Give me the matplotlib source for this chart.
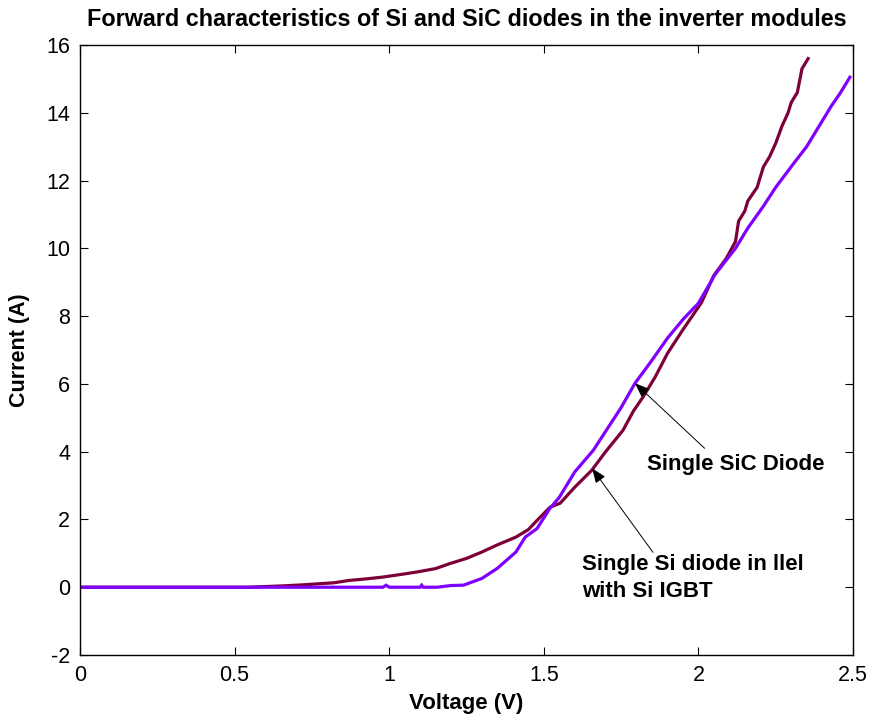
import matplotlib
matplotlib.use("Agg")
import matplotlib.pyplot as plt

# ---- data ----
si_v = [0, 0.3, 0.55, 0.6, 0.657, 0.72, 0.77, 0.82, 0.87, 0.93, 0.98, 1.04, 1.09,
        1.15, 1.197, 1.25, 1.30, 1.35, 1.41, 1.45, 1.478, 1.52, 1.553, 1.60, 1.655,
        1.70, 1.756, 1.79, 1.82, 1.86, 1.90, 1.95, 2.01, 2.05, 2.09, 2.12, 2.13,
        2.15, 2.16, 2.19, 2.21, 2.23, 2.25, 2.27, 2.29, 2.30, 2.32, 2.335, 2.355]
si_i = [0, 0, 0, 0.02, 0.04, 0.07, 0.1, 0.13, 0.2, 0.25, 0.3, 0.38, 0.45,
        0.55, 0.7, 0.85, 1.04, 1.25, 1.48, 1.7, 1.97, 2.36, 2.48, 2.95, 3.45,
        4.0, 4.63, 5.2, 5.6, 6.2, 6.9, 7.6, 8.4, 9.2, 9.7, 10.2, 10.8,
        11.1, 11.4, 11.8, 12.4, 12.7, 13.1, 13.6, 14.0, 14.3, 14.6, 15.3, 15.6]

sic_v = [0, 0.5, 0.98, 0.99, 1.0, 1.1, 1.105, 1.11, 1.155, 1.2, 1.24, 1.30, 1.35,
         1.41, 1.44, 1.478, 1.52, 1.55, 1.60, 1.66, 1.70, 1.75, 1.795, 1.85, 1.90,
         1.95, 2.0, 2.054, 2.12, 2.16, 2.21, 2.25, 2.306, 2.35, 2.40, 2.43, 2.46, 2.49]
sic_i = [0, 0, 0, 0.06, 0, 0, 0.06, 0, 0, 0.05, 0.06, 0.26, 0.56,
         1.04, 1.48, 1.73, 2.33, 2.65, 3.4, 4.04, 4.6, 5.3, 6.02, 6.7, 7.35,
         7.9, 8.38, 9.23, 10.0, 10.6, 11.24, 11.8, 12.48, 13.0, 13.75, 14.2, 14.6, 15.05]

x_ticks = [0, 0.5, 1, 1.5, 2, 2.5]
x_tick_labels = ["0", "0.5", "1", "1.5", "2", "2.5"]
y_ticks = [-2, 0, 2, 4, 6, 8, 10, 12, 14, 16]

plt.rcParams['font.family'] = ['Liberation Sans', 'DejaVu Sans']
plt.rcParams['axes.unicode_minus'] = False

fig = plt.figure(figsize=(8.75, 7.21), dpi=100)
ax = fig.add_axes([80/875, 66/721, (853-80)/875, (655-45)/721])

ax.plot(si_v, si_i, color="#7d0038", lw=2.3, solid_joinstyle='miter')
ax.plot(sic_v, sic_i, color="#8000ff", lw=2.3, solid_joinstyle='miter')

ax.set_xlim(0, 2.5)
ax.set_ylim(-2, 16)
ax.set_xticks(x_ticks)
ax.set_xticklabels(x_tick_labels)
ax.set_yticks(y_ticks)
ax.tick_params(direction='in', top=True, right=True, length=6, width=0.8,
               labelsize=15.5, pad=7)
for s in ax.spines.values():
    s.set_linewidth(1.0)

ax.set_xlabel("Voltage (V)", fontsize=16, fontweight='bold', labelpad=5)
ax.set_ylabel("Current (A)", fontsize=15.5, fontweight='bold', labelpad=12)
ax.set_title("Forward characteristics of Si and SiC diodes in the inverter modules",
             fontsize=16.8, fontweight='bold', pad=14)

ap = dict(arrowstyle='-|>,head_length=0.9,head_width=0.35', color='k', lw=0.7,
          shrinkA=0, shrinkB=0)
ax.annotate("", xy=(1.795, 6.02), xytext=(2.02, 4.1), arrowprops=ap)
ax.annotate("", xy=(1.656, 3.51), xytext=(1.853, 1.03), arrowprops=ap)
ax.text(1.834, 3.63, "Single SiC Diode", fontsize=16, fontweight='bold',
        va='center', ha='left')
ax.text(1.623, 0.98, "Single Si diode in llel\nwith Si IGBT", fontsize=16,
        fontweight='bold', va='top', ha='left', linespacing=1.4)

fig.savefig("out.png", dpi=100)
